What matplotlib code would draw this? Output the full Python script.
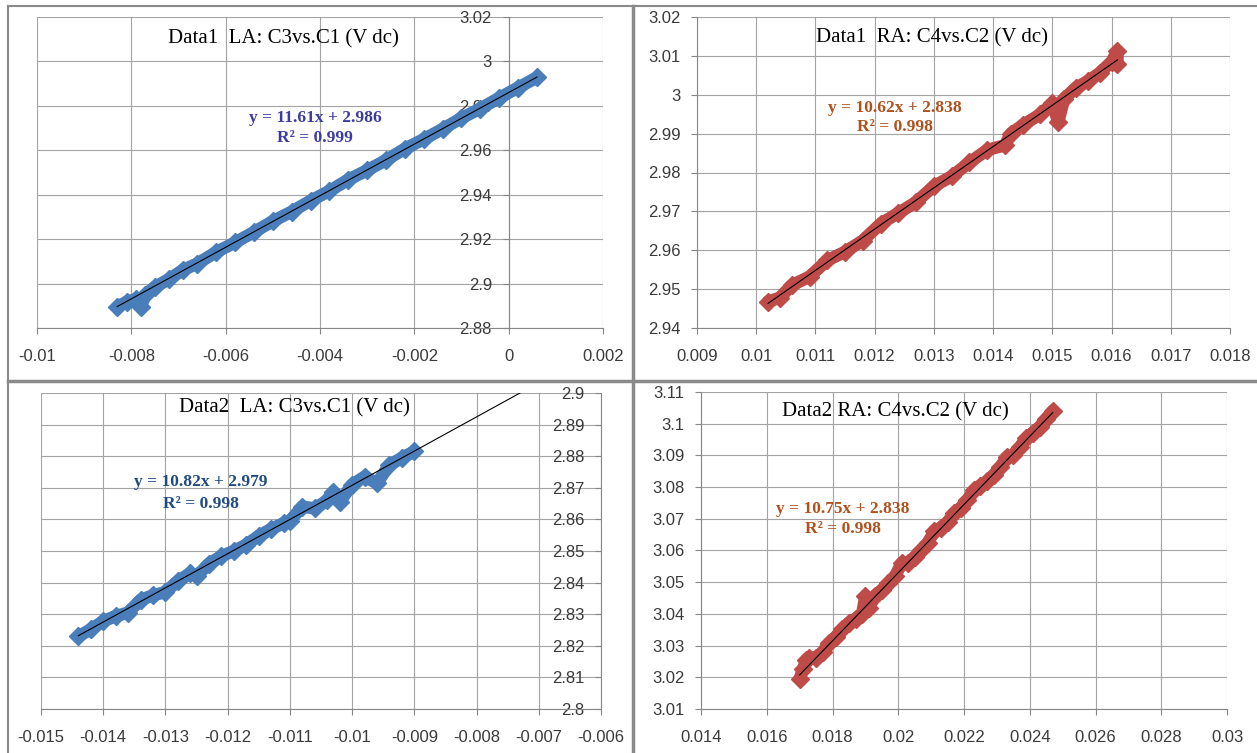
import numpy as np
import matplotlib
matplotlib.use("Agg")
import matplotlib.pyplot as plt
from matplotlib.lines import Line2D

# ---- panel 1: Data1 LA ----
x1 = [-0.0083, -0.0081, -0.0079, -0.0078, -0.0077, -0.0075, -0.0072, -0.0069, -0.0066,
      -0.0062, -0.0058, -0.0054, -0.0050, -0.0046, -0.0042, -0.0038, -0.0034, -0.0030,
      -0.0026, -0.0022, -0.0018, -0.0014, -0.0010, -0.0006, -0.0002, 0.0002, 0.0006]
y1 = [2.8895, 2.8918, 2.8930, 2.8894, 2.8950, 2.8985, 2.9020, 2.9062, 2.9090,
      2.9142, 2.9185, 2.9232, 2.9281, 2.9324, 2.9373, 2.9417, 2.9468, 2.9510,
      2.9556, 2.9607, 2.9650, 2.9696, 2.9745, 2.9788, 2.9836, 2.9882, 2.9928]

# ---- panel 2: Data1 RA ----
x2 = [0.0102, 0.0104, 0.0106, 0.0109, 0.0112, 0.0115, 0.0118, 0.0121, 0.0124, 0.0127,
      0.0130, 0.0133, 0.0136, 0.0139, 0.0142, 0.0143, 0.0145, 0.0148, 0.0150, 0.0151,
      0.0152, 0.0154, 0.0156, 0.0158, 0.0160, 0.0161, 0.0161]
y2 = [2.9468, 2.9478, 2.9510, 2.9532, 2.9574, 2.9596, 2.9625, 2.9668, 2.9696, 2.9724,
      2.9765, 2.9790, 2.9826, 2.9858, 2.9870, 2.9900, 2.9922, 2.9950, 2.9978, 2.9930,
      2.9990, 3.0018, 3.0035, 3.0056, 3.0085, 3.0112, 3.0080]

# ---- panel 3: Data2 LA ----
x3 = [-0.0144, -0.0142, -0.0140, -0.0138, -0.0136, -0.0134, -0.0132, -0.0130, -0.0128,
      -0.0126, -0.0125, -0.0123, -0.0121, -0.0119, -0.0117, -0.0115, -0.0113, -0.0111,
      -0.0110, -0.0108, -0.0106, -0.0104, -0.0103, -0.0102, -0.0100, -0.0098, -0.0096,
      -0.0094, -0.0092, -0.0090]
y3 = [2.8230, 2.8252, 2.8278, 2.8294, 2.8305, 2.8345, 2.8360, 2.8370, 2.8405,
      2.8430, 2.8420, 2.8460, 2.8484, 2.8500, 2.8520, 2.8548, 2.8570, 2.8588,
      2.8595, 2.8640, 2.8635, 2.8660, 2.8688, 2.8655, 2.8710, 2.8735, 2.8715,
      2.8772, 2.8795, 2.8815]

# ---- panel 4: Data2 RA ----
x4 = [0.0170, 0.0171, 0.0172, 0.0173, 0.0175, 0.0177, 0.0179, 0.0181, 0.0183, 0.0185,
      0.0187, 0.0189, 0.0190, 0.0191, 0.0193, 0.0195, 0.0197, 0.0199, 0.0201, 0.0203,
      0.0205, 0.0207, 0.0209, 0.0211, 0.0213, 0.0215, 0.0217, 0.0219, 0.0221, 0.0223,
      0.0225, 0.0227, 0.0229, 0.0231, 0.0233, 0.0235, 0.0237, 0.0239, 0.0241, 0.0243,
      0.0245, 0.0247]
y4 = [3.0195, 3.0225, 3.0255, 3.0262, 3.0262, 3.0280, 3.0308, 3.0328, 3.0352, 3.0372,
      3.0385, 3.0400, 3.0455, 3.0420, 3.0458, 3.0475, 3.0496, 3.0518, 3.0560, 3.0560,
      3.0580, 3.0600, 3.0625, 3.0660, 3.0672, 3.0690, 3.0718, 3.0735, 3.0758, 3.0790,
      3.0805, 3.0818, 3.0838, 3.0862, 3.0895, 3.0900, 3.0926, 3.0955, 3.0972, 3.0990,
      3.1015, 3.1040]

titles = ["Data1  LA: C3vs.C1 (V dc)", "Data1  RA: C4vs.C2 (V dc)",
          "Data2  LA: C3vs.C1 (V dc)", "Data2 RA: C4vs.C2 (V dc)"]
slopes = [11.61, 10.62, 10.82, 10.75]
intercepts = [2.986, 2.838, 2.979, 2.838]
r2 = ["0.999", "0.998", "0.998", "0.998"]
trend_x = [[-0.0083, 0.0006], [0.0102, 0.0161], [-0.0144, -0.0070], [0.0170, 0.0247]]

xlabels = [["-0.01", "-0.008", "-0.006", "-0.004", "-0.002", "0", "0.002"],
           ["0.009", "0.01", "0.011", "0.012", "0.013", "0.014", "0.015", "0.016", "0.017", "0.018"],
           ["-0.015", "-0.014", "-0.013", "-0.012", "-0.011", "-0.01", "-0.009", "-0.008", "-0.007", "-0.006"],
           ["0.014", "0.016", "0.018", "0.02", "0.022", "0.024", "0.026", "0.028", "0.03"]]
ylabels = [["2.88", "2.9", "2.92", "2.94", "2.96", "2.98", "3", "3.02"],
           ["2.94", "2.95", "2.96", "2.97", "2.98", "2.99", "3", "3.01", "3.02"],
           ["2.8", "2.81", "2.82", "2.83", "2.84", "2.85", "2.86", "2.87", "2.88", "2.89", "2.9"],
           ["3.01", "3.02", "3.03", "3.04", "3.05", "3.06", "3.07", "3.08", "3.09", "3.1", "3.11"]]
# where the vertical axis crosses
yaxis_at = [0.0, 0.009, -0.006, 0.014]

xs = [x1, x2, x3, x4]
ys = [y1, y2, y3, y4]
marker_colors = ["#4a7ebb", "#be4b48", "#4a7ebb", "#be4b48"]
eq_colors = ["#3b3ba3", "#b2501c", "#1f4a82", "#b2501c"]

W, H = 1257, 753
fig = plt.figure(figsize=(W / 100, H / 100), dpi=100)

# axes boxes in pixels: left, top, right, bottom
boxes = [(37, 17, 603, 328), (697, 17, 1230, 328), (41, 393, 601, 709), (701, 392, 1227, 709)]
title_pos = [(0.436, 0.929), (0.441, 0.932), (0.452, 0.953), (0.369, 0.937)]
eq_pos = [(0.491, 0.675, 0.611), (0.371, 0.707, 0.646), (0.286, 0.718, 0.649), (0.270, 0.631, 0.568)]

grid_c = "#a3a3a3"
axis_c = "#868686"

for i in range(4):
    l, t, r, b = boxes[i]
    ax = fig.add_axes([l / W, 1 - b / H, (r - l) / W, (b - t) / H])
    xt = [float(s) for s in xlabels[i]]
    yt = [float(s) for s in ylabels[i]]
    ax.set_xlim(xt[0], xt[-1])
    ax.set_ylim(yt[0], yt[-1])
    ax.set_xticks(xt, labels=xlabels[i])
    ax.set_yticks(yt, labels=ylabels[i])
    ax.grid(True, color=grid_c, lw=0.8)
    for s in ["top", "right"]:
        ax.spines[s].set_visible(False)
    ax.spines["left"].set_position(("data", yaxis_at[i]))
    ax.spines["left"].set_color(axis_c)
    ax.spines["bottom"].set_color(axis_c)
    ax.spines["left"].set_zorder(1.6)
    ax.spines["bottom"].set_zorder(1.6)
    ax.tick_params(axis="x", length=4, color=axis_c, pad=11, labelsize=12, labelcolor="#3a3a3a")
    ax.tick_params(axis="y", length=4, color=axis_c, pad=8, labelsize=12, labelcolor="#3a3a3a")
    for lab in ax.get_xticklabels() + ax.get_yticklabels():
        lab.set_family("Liberation Sans")

    ax.plot(xs[i], ys[i], color=marker_colors[i], lw=9, marker="D", ms=9,
            solid_capstyle="round", solid_joinstyle="round", zorder=3)
    tx = np.array(trend_x[i])
    ax.plot(tx, slopes[i] * tx + intercepts[i], color="black", lw=0.8, zorder=4)

    ax.text(title_pos[i][0], title_pos[i][1], titles[i], transform=ax.transAxes,
            ha="center", va="center", family="Liberation Serif", fontsize=15, zorder=5)
    ex, ey1, ey2 = eq_pos[i]
    ax.text(ex, ey1, "y = %.2fx + %.3f" % (slopes[i], intercepts[i]), transform=ax.transAxes,
            ha="center", va="center", family="Liberation Serif", fontweight="bold",
            fontsize=12.5, color=eq_colors[i], zorder=5)
    ax.text(ex, ey2, "R² = " + r2[i], transform=ax.transAxes,
            ha="center", va="center", family="Liberation Serif", fontweight="bold",
            fontsize=12.5, color=eq_colors[i], zorder=5)

# cell borders around the charts
border_c = "#8a8a8a"
fig.add_artist(Line2D([8 / W, 1], [1 - 6 / H, 1 - 6 / H], color=border_c, lw=1.5))
fig.add_artist(Line2D([8 / W, 8 / W], [0, 1 - 6 / H], color=border_c, lw=1.5))
fig.add_artist(Line2D([633 / W, 633 / W], [0, 1 - 6 / H], color=border_c, lw=2.5))
fig.add_artist(Line2D([8 / W, 1], [1 - 381 / H, 1 - 381 / H], color=border_c, lw=2.5))

fig.savefig("out.png", dpi=100, facecolor="white")
